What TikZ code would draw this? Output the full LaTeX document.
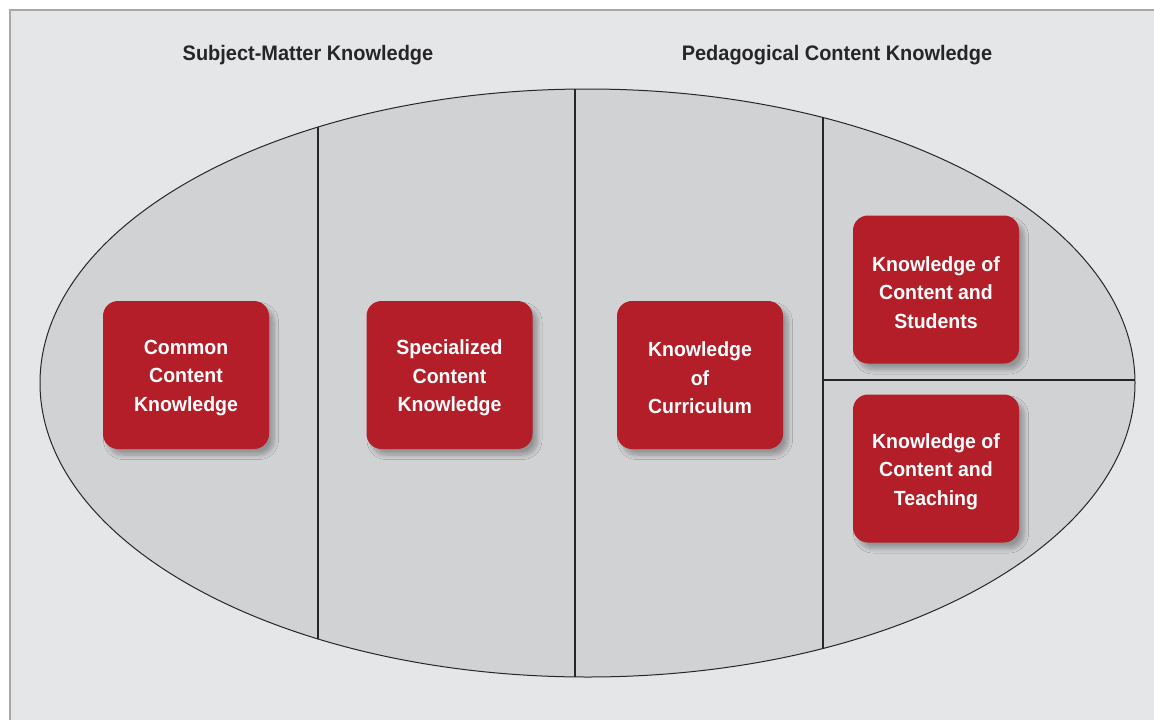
\documentclass[tikz,border=0pt]{standalone}
\usepackage{fontspec}
\setmainfont{Liberation Sans}[FakeStretch=0.95]
\usetikzlibrary{shadows.blur}
\definecolor{panel}{HTML}{E5E6E8}
\definecolor{ell}{HTML}{D1D2D4}
\definecolor{kred}{HTML}{B31E28}
\definecolor{edge}{HTML}{A7A8AA}
\tikzset{
  kbox/.style={draw=none, fill=kred, rounded corners=15pt, minimum width=166pt, minimum height=148pt,
    blur shadow={shadow xshift=5pt, shadow yshift=-6pt, shadow blur steps=10, shadow blur radius=4.5pt, shadow opacity=30}},
  ktext/.style={text=white, align=center, font=\bfseries\fontsize{20.5}{28.5}\selectfont},
  ktitle/.style={font=\bfseries\fontsize{21}{24}\selectfont, text=black!85},
  divider/.style={draw=black!85, line width=1.1pt}
}
\begin{document}
\begin{tikzpicture}[x=1pt,y=-1pt]
\useasboundingbox (0,0) rectangle (1154,720);
\fill[white] (0,0) rectangle (1154,720);
\fill[panel] (10,10) rectangle (1154,720);
\draw[edge, line width=1.5pt] (10,720) -- (10,10) -- (1154,10);
\node[ktitle] (t1) at (308,55) {Subject-Matter Knowledge};
\node[ktitle] (t2) at (837,55) {Pedagogical Content Knowledge};
\filldraw[fill=ell, draw=black!85, line width=1pt] (587.5,383) ellipse [x radius=547.5, y radius=294];
\coordinate (v1t) at (318,127.1); \coordinate (v1b) at (318,638.9);
\coordinate (v2t) at (575,89.3); \coordinate (v2b) at (575,676.7);
\coordinate (v3t) at (823,117.6); \coordinate (v3b) at (823,648.4);
\coordinate (hl) at (823,380); \coordinate (hr) at (1135,380);
\draw[divider] (v1t) -- (v1b);
\draw[divider] (v2t) -- (v2b);
\draw[divider] (v3t) -- (v3b);
\draw[divider] (hl) -- (hr);
\node[kbox] (cck) at (186,375) {};
\node[kbox] (sck) at (449.5,375) {};
\node[kbox] (kc) at (700,375) {};
\node[kbox] (kcs) at (936,289.5) {};
\node[kbox] (kct) at (936,468.5) {};
\node[ktext] (cckt) at ([yshift=-3pt]cck.center) {Common\\Content\\Knowledge};
\node[ktext] (sckt) at ([yshift=-3pt]sck.center) {Specialized\\Content\\Knowledge};
\node[ktext] (kct1) at ([yshift=-3pt]kc.center) {Knowledge\\of\\Curriculum};
\node[ktext] (kcst) at ([yshift=-3pt]kcs.center) {Knowledge of\\Content and\\Students};
\node[ktext] (kctt) at ([yshift=-3pt]kct.center) {Knowledge of\\Content and\\Teaching};
\end{tikzpicture}
\end{document}
